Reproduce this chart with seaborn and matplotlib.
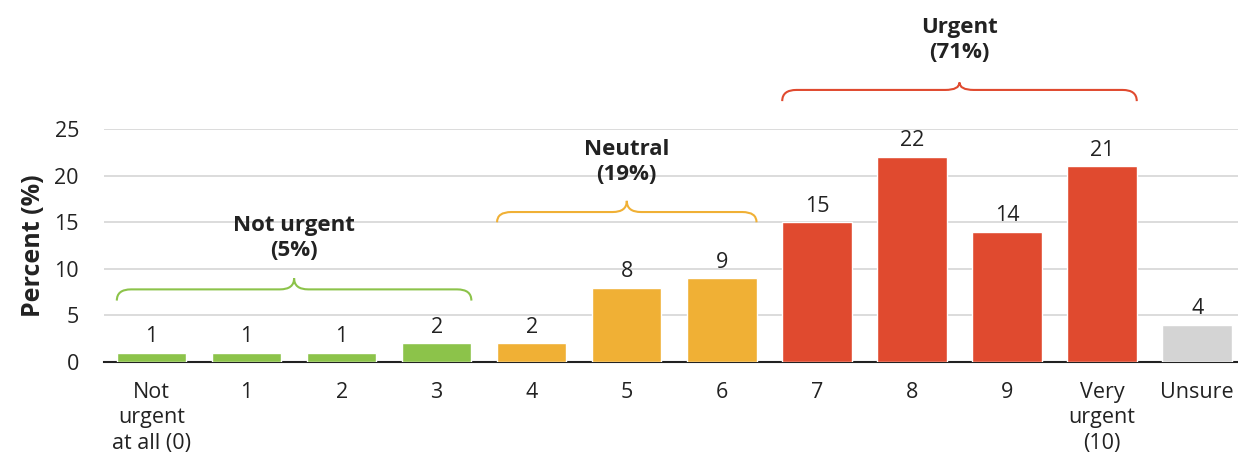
import matplotlib.pyplot as plt
import seaborn as sns
import pandas as pd
from matplotlib.path import Path
from matplotlib.patches import PathPatch

# data
categories = ['Not\nurgent\nat all (0)', '1', '2', '3', '4', '5', '6', '7', '8', '9',
              'Very\nurgent\n(10)', 'Unsure']
percent = [1, 1, 1, 2, 2, 8, 9, 15, 22, 14, 21, 4]
groups = ['not', 'not', 'not', 'not', 'neutral', 'neutral', 'neutral',
          'urgent', 'urgent', 'urgent', 'urgent', 'unsure']

group_labels = ['Not urgent\n(5%)', 'Neutral\n(19%)', 'Urgent\n(71%)']
group_span = [(0, 3), (4, 6), (7, 10)]

colors = {'not': '#8cc34a', 'neutral': '#f0b035', 'urgent': '#e04a2f', 'unsure': '#d4d4d4'}
text_color = '#222222'

df = pd.DataFrame({'cat': categories, 'pct': percent, 'grp': groups})

sns.set_style('white')
plt.rcParams['font.family'] = ['Open Sans', 'DejaVu Sans']

fig = plt.figure(figsize=(12.38, 4.66), dpi=100)
ax = fig.add_axes([0.084, 0.223, 0.916, 0.5])

bar_w = 0.73
sns.barplot(data=df, x='cat', y='pct', hue='grp', palette=colors, dodge=False,
            width=bar_w, saturation=1, legend=False, ax=ax, zorder=3)

# value labels
for i, v in enumerate(percent):
    ax.text(i, v + 0.6, str(v), ha='center', va='bottom', fontsize=15.5, color=text_color)

# braces + group labels
brace_cfg = [  # (y_end, y_flat, y_tip, y_text)
    (6.6, 7.8, 9.0, 10.8),
    (15.0, 16.1, 17.3, 19.0),
    (28.0, 29.2, 30.0, 32.1),
]
for (lo, hi), lab, (ye, yf, yt, ytx), grp in zip(group_span, group_labels, brace_cfg,
                                                 ['not', 'neutral', 'urgent']):
    x0, x1 = lo - bar_w / 2, hi + bar_w / 2
    xm = (x0 + x1) / 2
    r = 0.15
    verts = [(x0, ye), (x0, yf), (x0 + r, yf), (xm - r, yf), (xm, yf), (xm, yt),
             (xm, yf), (xm + r, yf), (x1 - r, yf), (x1, yf), (x1, ye)]
    codes = [Path.MOVETO, Path.CURVE3, Path.CURVE3, Path.LINETO, Path.CURVE3, Path.CURVE3,
             Path.CURVE3, Path.CURVE3, Path.LINETO, Path.CURVE3, Path.CURVE3]
    ax.add_patch(PathPatch(Path(verts, codes), fill=False, edgecolor=colors[grp],
                           lw=1.5, clip_on=False, zorder=4))
    ax.text(xm, ytx, lab, ha='center', va='bottom', fontsize=16, fontweight='bold',
            color=text_color, linespacing=1.25)

ax.set_ylim(0, 25)
ax.set_xlim(-0.5, 11.43)
ax.set_yticks([0, 5, 10, 15, 20, 25])
ax.yaxis.grid(True, color='#d9d9d9', lw=1.3, zorder=0)
ax.set_axisbelow(True)
sns.despine(ax=ax, left=True)
ax.spines['bottom'].set_color('#222222')
ax.spines['bottom'].set_linewidth(1.5)
ax.tick_params(axis='y', length=0, pad=18, labelsize=15.5, labelcolor=text_color)
ax.tick_params(axis='x', length=0, pad=14, labelsize=15.5, labelcolor=text_color)
for t in ax.get_xticklabels():
    t.set_linespacing(1.3)
ax.set_xlabel('')
ax.set_ylabel('Percent (%)', fontsize=18, fontweight='bold', color=text_color, labelpad=6)

fig.savefig('out.png', dpi=100)
